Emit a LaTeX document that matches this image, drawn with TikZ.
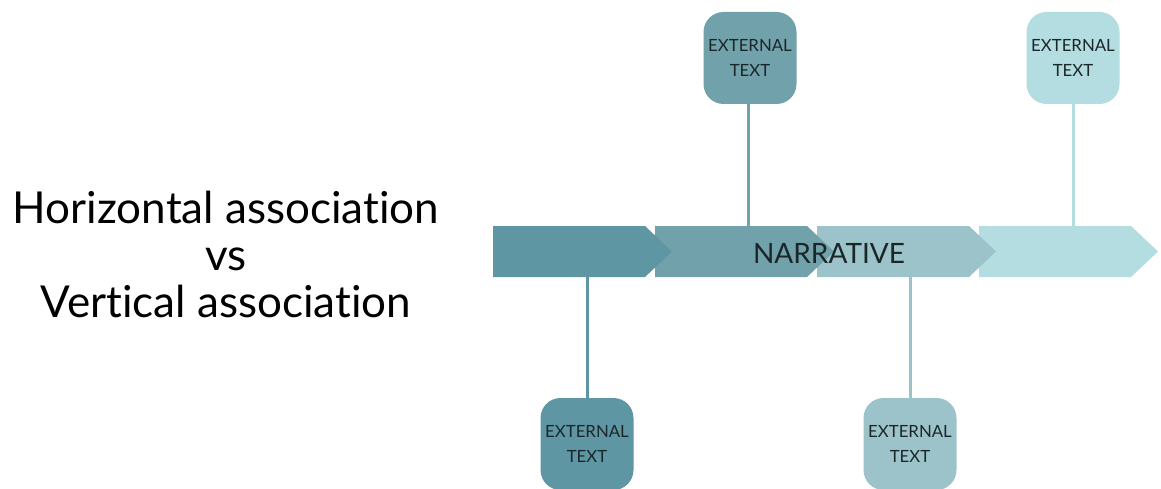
\documentclass[tikz,border=0pt]{standalone}
\usepackage{fontspec}
\setmainfont[Ligatures=NoCommon]{Lato}
\definecolor{cA}{HTML}{5E96A4}
\definecolor{cB}{HTML}{71A1AB}
\definecolor{cC}{HTML}{9DC3CA}
\definecolor{cD}{HTML}{B3DDE0}
\definecolor{ink}{HTML}{1B2628}
\begin{document}
\begin{tikzpicture}[x=1pt,y=-1pt,
  extbox/.style={rounded corners=20pt, minimum width=93pt, minimum height=92pt, inner sep=0pt,
    align=center, text=ink, font=\fontsize{16.8}{25}\selectfont},
  link/.style={line width=3pt},
  title/.style={align=center, text=black, font=\fontsize{44}{47}\selectfont}]
\useasboundingbox (0,0) rectangle (1161,489);
% chevrons (later ones underneath)
\foreach \i/\c in {3/cD,2/cC,1/cB,0/cA}{
  \pgfmathsetmacro{\xl}{493+162*\i}
  \fill[\c] (\xl,226) -- ++(152,0) -- ++(27,25.5) -- ++(-27,25.5) -- (\xl,277) -- cycle;
}
\node[text=ink, font=\fontsize{28}{28}\selectfont, inner sep=0pt] (narr) at (829,253) {NARRATIVE};
% boxes
\node[extbox, fill=cB] (t1) at (750,58) {EXTERNAL\\TEXT};
\node[extbox, fill=cD] (t2) at (1073,58) {EXTERNAL\\TEXT};
\node[extbox, fill=cA] (b1) at (587,444) {EXTERNAL\\TEXT};
\node[extbox, fill=cC] (b2) at (910,444) {EXTERNAL\\TEXT};
\coordinate (t1e) at (748,226);
\coordinate (t2e) at (1073,226);
\coordinate (b1e) at (587,277);
\coordinate (b2e) at (910,277);
\draw[link, cB] (t1.south -| t1e) -- (t1e);
\draw[link, cD] (t2.south -| t2e) -- (t2e);
\draw[link, cA] (b1.north -| b1e) -- (b1e);
\draw[link, cC] (b2.north -| b2e) -- (b2e);
% title
\node[title] (ttl) at (226,254) {Horizontal association\\vs\\Vertical association};
\end{tikzpicture}
\end{document}
